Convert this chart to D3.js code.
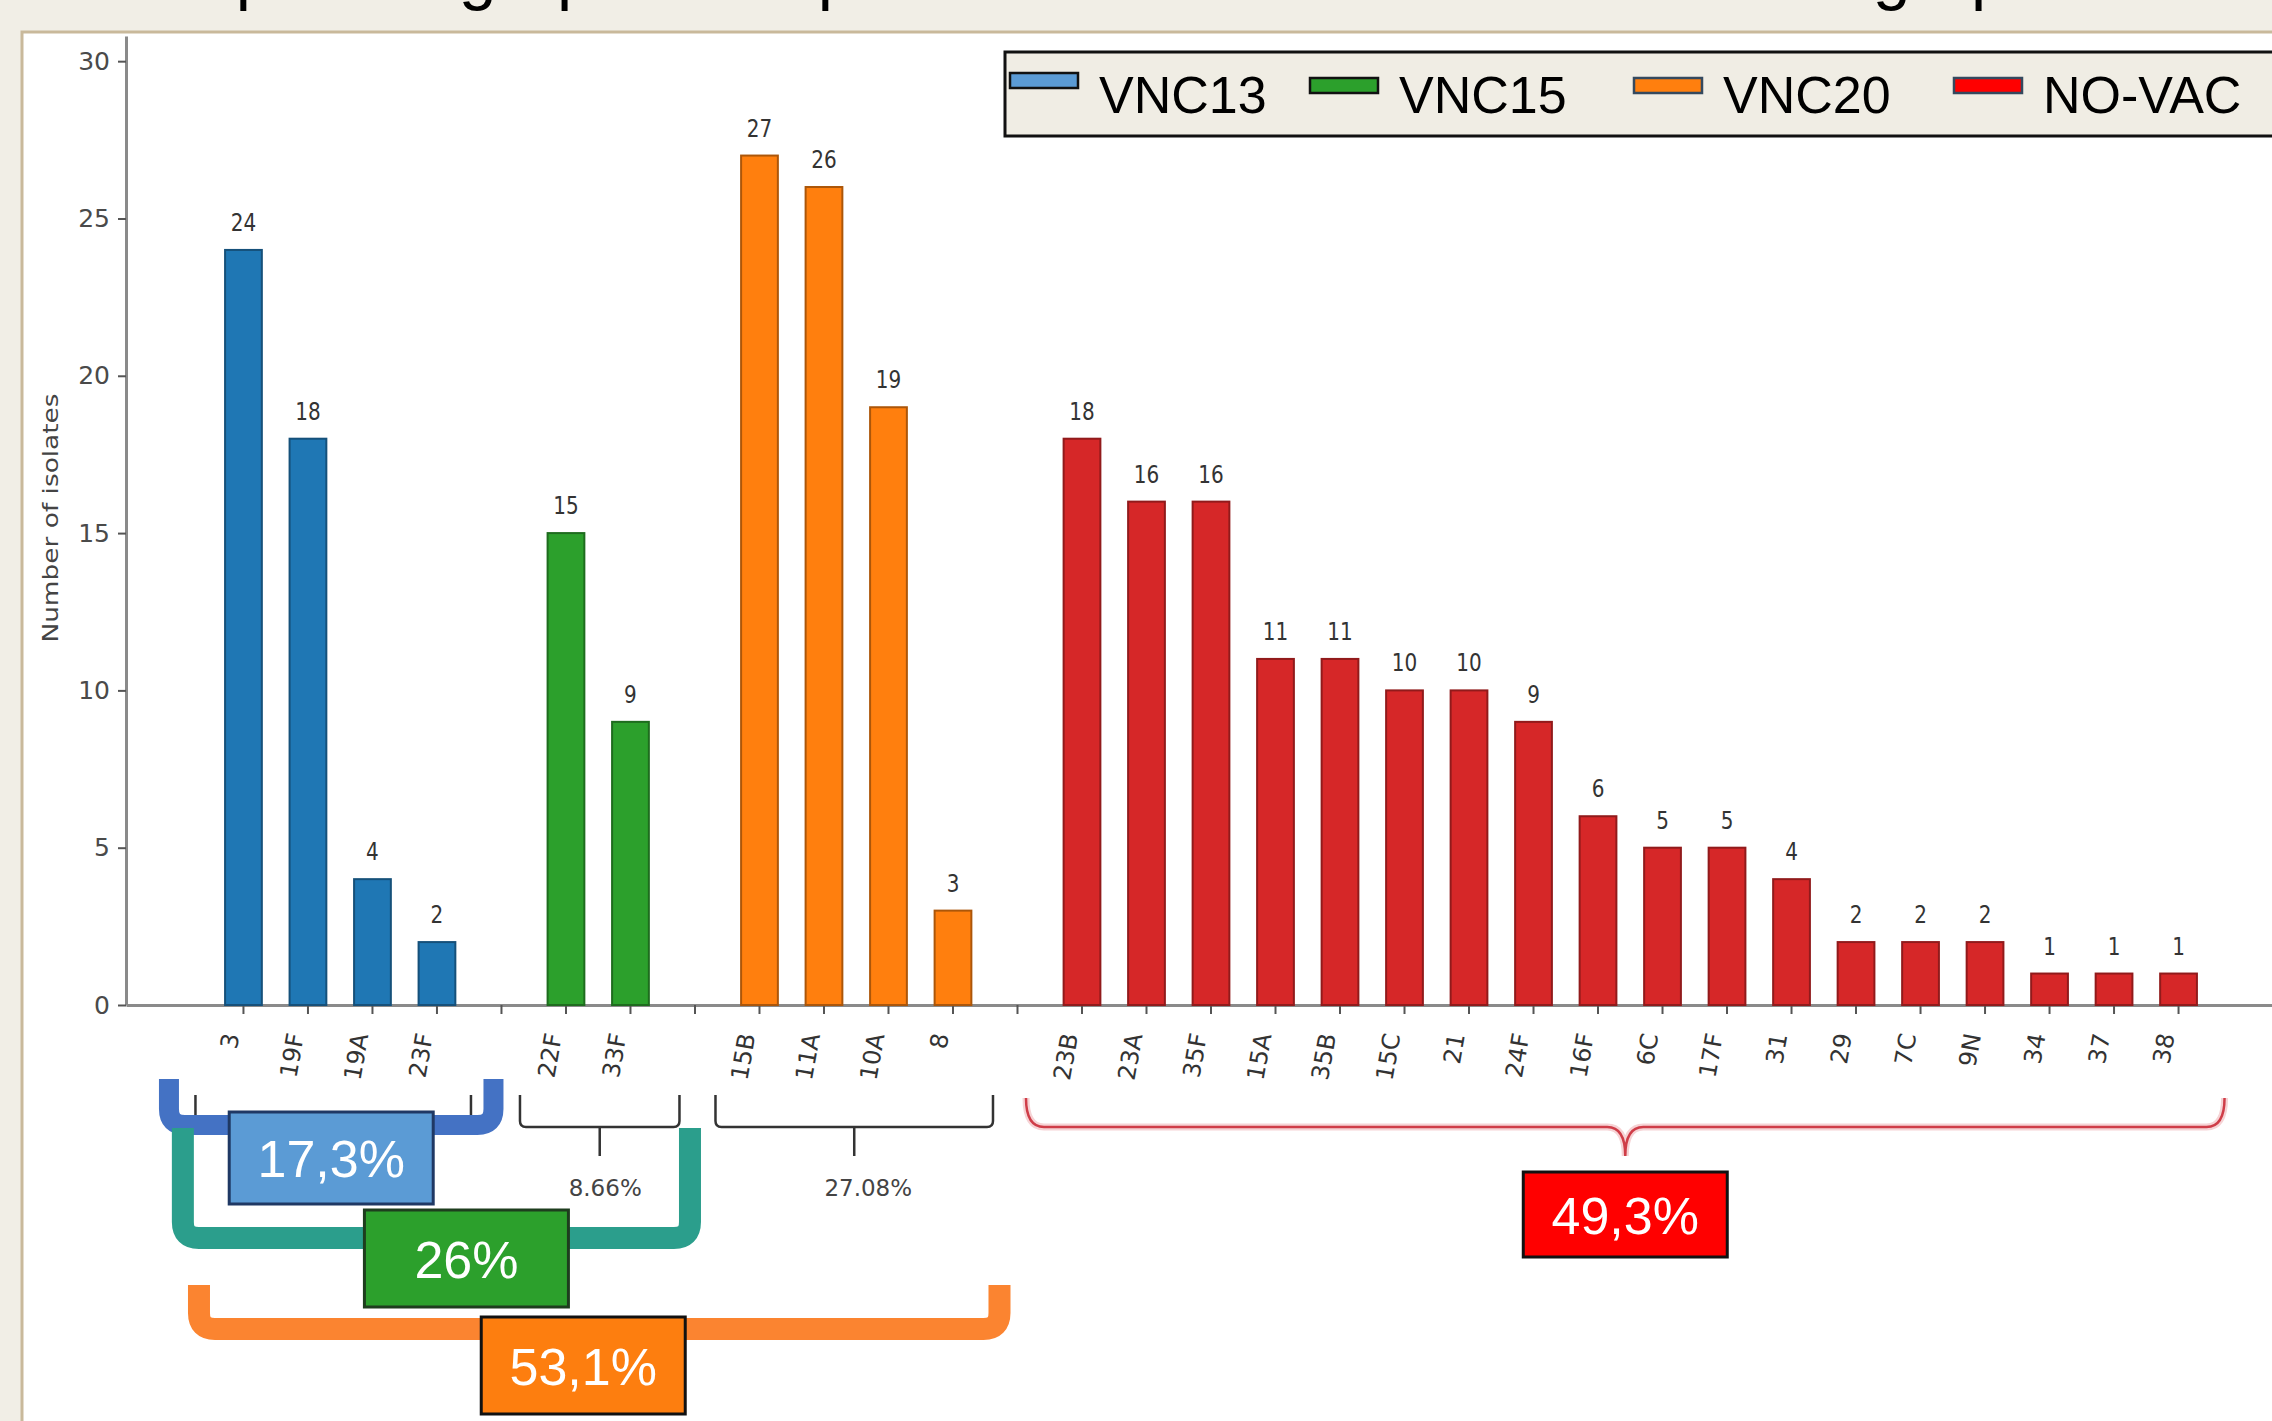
<!DOCTYPE html>
<html>
<head>
<meta charset="utf-8">
<script src="https://cdn.jsdelivr.net/npm/d3@7"></script>
<style>
  body { margin: 0; background: #f1eee6; }
  svg { display: block; }
</style>
</head>
<body>
<svg id="chart" width="2272" height="1421"></svg>
<script>
// data
var groupNames = ["VNC13", "VNC15", "VNC20", "NO-VAC"];
var vnc13Serotypes = ["3", "19F", "19A", "23F"];
var vnc13Counts = [24, 18, 4, 2];
var vnc15Serotypes = ["22F", "33F"];
var vnc15Counts = [15, 9];
var vnc20Serotypes = ["15B", "11A", "10A", "8"];
var vnc20Counts = [27, 26, 19, 3];
var noVacSerotypes = ["23B", "23A", "35F", "15A", "35B", "15C", "21", "24F", "16F",
                      "6C", "17F", "31", "29", "7C", "9N", "34", "37", "38"];
var noVacCounts = [18, 16, 16, 11, 11, 10, 10, 9, 6, 5, 5, 4, 2, 2, 2, 1, 1, 1];
var yTicks = [0, 5, 10, 15, 20, 25, 30];
var groupShares = ["17,3%", "26%", "53,1%", "49,3%"];
var subShares = ["8.66%", "27.08%"];

var barColors = ["#1f77b4", "#2ca02c", "#ff7f0e", "#d62728"];
var legendColors = ["#5b9bd5", "#2ca02c", "#ff7f0e", "#ff0000"];

// one slot per serotype, plus an empty slot between groups
var slots = [];
function addGroup(names, counts, g) {
  names.forEach(function(n, i) {
    slots.push({ key: n, label: n, value: counts[i], group: g });
  });
}
addGroup(vnc13Serotypes, vnc13Counts, 0);
slots.push({ key: "gap1", label: "", value: null });
addGroup(vnc15Serotypes, vnc15Counts, 1);
slots.push({ key: "gap2", label: "", value: null });
addGroup(vnc20Serotypes, vnc20Counts, 2);
slots.push({ key: "gap3", label: "", value: null });
addGroup(noVacSerotypes, noVacCounts, 3);
var bars = slots.filter(function(d) { return d.value !== null; });

var svg = d3.select("#chart");

// title, cut off by the top of the slide
svg.append("text")
  .attr("x", 58)
  .attr("y", -3)
  .attr("font-family", "Liberation Sans, Arial, sans-serif")
  .attr("font-size", 68)
  .attr("fill", "#000")
  .text("Serotipos de grupo de la población estudiada de acuerdo al grupo vacunal");

// white panel
svg.append("rect")
  .attr("x", 22).attr("y", 32)
  .attr("width", 2300).attr("height", 1420)
  .attr("fill", "#fff")
  .attr("stroke", "#c9b99b")
  .attr("stroke-width", 3);

var x = d3.scaleBand()
  .domain(slots.map(function(d) { return d.key; }))
  .range([126, 2296])
  .paddingInner(0.43)
  .paddingOuter(1.536);
var y = d3.scaleLinear()
  .domain([0, 30.8])
  .range([1005, 36]);
var xc = function(k) { return x(k) + x.bandwidth() / 2; };
var step = x.step();

// axes
var yAxis = svg.append("g")
  .attr("transform", "translate(126,0)")
  .call(d3.axisLeft(y).tickValues(yTicks).tickSize(8).tickPadding(8).tickSizeOuter(0));
yAxis.select(".domain").attr("stroke", "#8a8a8a").attr("stroke-width", 3);
yAxis.selectAll(".tick line").attr("stroke", "#555").attr("stroke-width", 2);
yAxis.selectAll(".tick text")
  .attr("font-family", "DejaVu Sans, sans-serif")
  .attr("font-size", 25)
  .attr("fill", "#4a4a4a");

svg.append("text")
  .attr("transform", "translate(58,518) scale(1,1.2) rotate(-90)")
  .attr("text-anchor", "middle")
  .attr("font-family", "DejaVu Sans, sans-serif")
  .attr("font-size", 22)
  .attr("fill", "#444")
  .text("Number of isolates");

var xAxis = svg.append("g")
  .attr("transform", "translate(0,1005)")
  .call(d3.axisBottom(x)
    .tickSize(9)
    .tickSizeOuter(0)
    .tickFormat(function(k) { return slots.find(function(s) { return s.key === k; }).label; }));
xAxis.select(".domain").attr("stroke", "#8a8a8a").attr("stroke-width", 3);
xAxis.selectAll(".tick line").attr("stroke", "#555").attr("stroke-width", 2);
xAxis.selectAll(".tick text")
  .attr("x", 0).attr("y", 0).attr("dy", null)
  .attr("transform", "translate(-4,30) rotate(-80)")
  .style("text-anchor", "end")
  .attr("font-family", "DejaVu Sans, sans-serif")
  .attr("font-size", 24)
  .attr("fill", "#333");

// bars
svg.append("g")
  .selectAll("rect")
  .data(bars)
  .enter().append("rect")
    .attr("x", function(d) { return x(d.key); })
    .attr("y", function(d) { return y(d.value); })
    .attr("width", x.bandwidth())
    .attr("height", function(d) { return y(0) - y(d.value); })
    .attr("fill", function(d) { return barColors[d.group]; })
    .attr("stroke", function(d) { return d3.color(barColors[d.group]).darker(1.1); })
    .attr("stroke-width", 2);

svg.append("g")
  .selectAll("text")
  .data(bars)
  .enter().append("text")
    .attr("transform", function(d) {
      return "translate(" + xc(d.key) + "," + (y(d.value) - 19) + ") scale(1,1.2)";
    })
    .attr("text-anchor", "middle")
    .attr("font-family", "DejaVu Sans, sans-serif")
    .attr("font-size", 20)
    .attr("fill", "#333")
    .text(function(d) { return d.value; });

// legend
var legend = svg.append("g");
legend.append("rect")
  .attr("x", 1005).attr("y", 52)
  .attr("width", 1300).attr("height", 84)
  .attr("fill", "#f0ede4")
  .attr("stroke", "#111")
  .attr("stroke-width", 3);
var legendSwatchX = [1010, 1310, 1634, 1954];
var legendSwatchY = [73, 78, 78, 78];
var legendStroke = ["#111", "#111", "#34495e", "#34495e"];
groupNames.forEach(function(name, i) {
  legend.append("rect")
    .attr("x", legendSwatchX[i]).attr("y", legendSwatchY[i])
    .attr("width", 68).attr("height", 15)
    .attr("fill", legendColors[i])
    .attr("stroke", legendStroke[i])
    .attr("stroke-width", 2.5);
  legend.append("text")
    .attr("x", legendSwatchX[i] + 89)
    .attr("y", 113)
    .attr("font-family", "Liberation Sans, Arial, sans-serif")
    .attr("font-size", 52)
    .attr("fill", "#000")
    .text(name);
});

// thin brackets from the original figure
function thinBracket(x0, x1, yTop, yMid, yTip, r) {
  var xm = (x0 + x1) / 2;
  return "M" + x0 + "," + yTop + "V" + (yMid - r) + "Q" + x0 + "," + yMid + " " + (x0 + r) + "," + yMid +
    "H" + (x1 - r) + "Q" + x1 + "," + yMid + " " + x1 + "," + (yMid - r) + "V" + yTop +
    "M" + xm + "," + yMid + "V" + yTip;
}
var thin = svg.append("g").attr("fill", "none").attr("stroke", "#333").attr("stroke-width", 2.5);
thin.append("path").attr("d", thinBracket(xc("3") - 48, xc("23F") + 34, 1095, 1127, 1156, 6));
thin.append("path").attr("d", thinBracket(xc("22F") - 46, xc("33F") + 49, 1095, 1127, 1156, 6));
thin.append("path").attr("d", thinBracket(xc("15B") - 44, xc("8") + 40, 1095, 1127, 1156, 6));

var subCenters = [(xc("22F") + xc("33F")) / 2 + 7, (xc("15B") + xc("8")) / 2 + 12];
subShares.forEach(function(s, i) {
  svg.append("text")
    .attr("x", subCenters[i]).attr("y", 1196)
    .attr("text-anchor", "middle")
    .attr("font-family", "DejaVu Sans, sans-serif")
    .attr("font-size", 23)
    .attr("fill", "#444")
    .text(s);
});

// red curly brace for the non-vaccine serotypes
var bL = xc("23B") - 56, bR = xc("38") + 46, bM = (bL + bR) / 2;
var brace = "M" + bL + ",1098 Q" + bL + ",1127 " + (bL + 18) + ",1127 H" + (bM - 18) +
  " Q" + bM + ",1127 " + bM + ",1156 Q" + bM + ",1127 " + (bM + 18) + ",1127 H" + (bR - 18) +
  " Q" + bR + ",1127 " + bR + ",1098";
svg.append("path").attr("d", brace).attr("fill", "none").attr("stroke", "#f6d3d5").attr("stroke-width", 7);
svg.append("path").attr("d", brace).attr("fill", "none").attr("stroke", "#cf3d48").attr("stroke-width", 2.5);

// thick overlay brackets
function thickBracket(x0, x1, yTop, yBottom, t, r) {
  var l = x0 + t / 2, rr = x1 - t / 2, b = yBottom - t / 2;
  return "M" + l + "," + yTop + "V" + (b - r) + "Q" + l + "," + b + " " + (l + r) + "," + b +
    "H" + (rr - r) + "Q" + rr + "," + b + " " + rr + "," + (b - r) + "V" + yTop;
}
var overlays = [
  { x0: xc("3") - 1.31 * step, x1: xc("gap1") + 2, top: 1079, bottom: 1135, t: 20, color: "#4472c4" },
  { x0: xc("3") - 1.11 * step, x1: xc("gap2") + 6, top: 1128, bottom: 1249, t: 22, color: "#2b9e8c" },
  { x0: xc("3") - 0.86 * step, x1: xc("gap3") - 7, top: 1285, bottom: 1340, t: 22, color: "#fb8430" }
];
overlays.forEach(function(o) {
  svg.append("path")
    .attr("d", thickBracket(o.x0, o.x1, o.top, o.bottom, o.t, 16))
    .attr("fill", "none")
    .attr("stroke", o.color)
    .attr("stroke-width", o.t);
});

// percentage boxes
var boxes = [
  { cx: (overlays[0].x0 + overlays[0].x1) / 2, top: 1112, h: 92, fill: "#5b9bd5", stroke: "#1f3864" },
  { cx: (overlays[1].x0 + overlays[1].x1) / 2 + 30, top: 1210, h: 97, fill: "#2ca02c", stroke: "#1e3d1e" },
  { cx: (overlays[2].x0 + overlays[2].x1) / 2 - 16, top: 1317, h: 97, fill: "#fd7e0f", stroke: "#111" },
  { cx: bM, top: 1172, h: 85, fill: "#ff0000", stroke: "#111" }
];
boxes.forEach(function(b, i) {
  svg.append("rect")
    .attr("x", b.cx - 102).attr("y", b.top)
    .attr("width", 204).attr("height", b.h)
    .attr("fill", b.fill)
    .attr("stroke", b.stroke)
    .attr("stroke-width", 3);
  svg.append("text")
    .attr("x", b.cx).attr("y", b.top + b.h / 2 + 19)
    .attr("text-anchor", "middle")
    .attr("font-family", "Liberation Sans, Arial, sans-serif")
    .attr("font-size", 52)
    .attr("fill", "#fff")
    .text(groupShares[i]);
});
</script>
</body>
</html>
